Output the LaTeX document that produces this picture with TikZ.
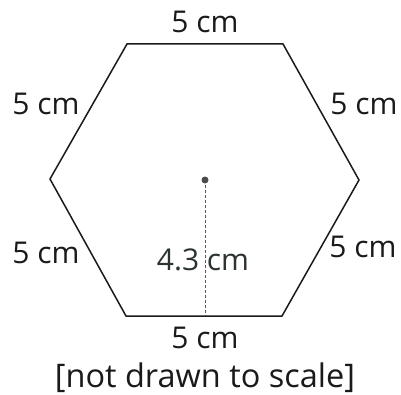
\documentclass[tikz,border=0pt]{standalone}
\usepackage{fontspec}
\setmainfont{Open Sans}
\definecolor{ink}{HTML}{1A1A1A}
\definecolor{dimink}{HTML}{2B342E}
\begin{document}
\begin{tikzpicture}[x=1pt,y=-1pt,
  lbl/.style={font=\fontsize{30}{35}\selectfont, text=ink, inner sep=0pt, anchor=base},
  edge/.style={draw=ink, line width=1.5pt, line join=miter}]
\useasboundingbox (0,0) rectangle (401,395);
\coordinate (A) at (127,44);
\coordinate (B) at (283,44);
\coordinate (C) at (359,180);
\coordinate (D) at (282,316);
\coordinate (E) at (126,316);
\coordinate (F) at (50,179);
\coordinate (O) at (205,180);
\coordinate (M) at (205,316);
\draw[edge] (A) -- (B) -- (C) -- (D) -- (E) -- (F) -- cycle;
\draw[gray!70!black, line width=0.9pt, dash pattern=on 3pt off 2pt] (O) -- (M);
\fill[gray!60!black] (O) circle (3.5pt);
\node[lbl] (t1) at (205,33) {5 cm};
\node[lbl] (t2) at (46,115) {5 cm};
\node[lbl] (t3) at (364,115) {5 cm};
\node[lbl] (t4) at (46,263) {5 cm};
\node[lbl] (t5) at (363,257) {5 cm};
\node[lbl] (t6) at (205,348) {5 cm};
\node[lbl, text=dimink] (h) at (203,270) {4.3 cm};
\node[lbl, font=\fontsize{32.5}{38}\selectfont] (n) at (205,387) {[not drawn to scale]};
\end{tikzpicture}
\end{document}
